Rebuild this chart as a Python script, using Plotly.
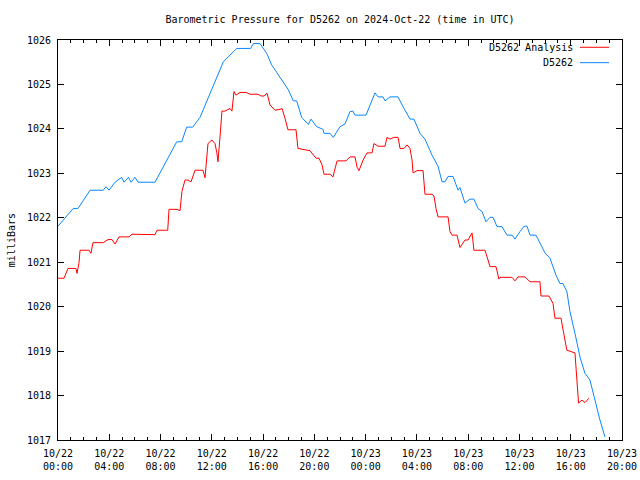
import pandas as pd
import plotly.graph_objects as go

# ---- data (hours since 2024-10-22 00:00 UTC, pressure in mb) ----
START = "2024-10-22 00:00"

obs_hours = [0, 0.39, 1.19, 1.56, 2.50, 3.53, 3.74, 3.98, 4.45, 4.97, 5.15, 5.50, 5.70, 6.01, 6.24,
             7.57, 9.26, 9.65, 10.04, 10.51, 10.92, 11.08, 12.90, 13.55, 13.94, 15.03, 15.24, 15.76,
             16.28, 16.67, 17.32, 17.97, 18.36, 18.62, 19.01, 19.50, 19.53, 19.74, 20.18, 20.67, 20.75,
             21.22, 21.48, 22.00, 22.39, 22.78, 23.01, 23.17, 24.03, 24.73, 24.97, 25.36, 25.51, 25.90,
             26.53, 26.84, 27.31, 27.46, 27.77, 28.24, 28.63, 29.18, 29.65, 29.96, 30.19, 30.43, 30.82,
             31.21, 31.36, 31.75, 32.14, 32.45, 32.77, 33.08, 33.39, 33.70, 33.94, 34.25, 34.64, 35.03,
             35.42, 35.65, 36.04, 36.36, 36.59, 36.82, 37.29, 37.60, 37.99, 38.38, 38.85, 39.16, 39.39,
             39.70, 39.94, 40.33, 40.72, 41.11, 41.50, 41.89, 42.28, 42.67]
obs_values = [1021.81, 1021.95, 1022.21, 1022.21, 1022.62, 1022.62, 1022.70, 1022.62, 1022.80, 1022.91,
              1022.80, 1022.91, 1022.80, 1022.91, 1022.80, 1022.80, 1023.71, 1023.71, 1024.04, 1024.04,
              1024.20, 1024.26, 1025.51, 1025.71, 1025.81, 1025.81, 1025.92, 1025.92, 1025.70, 1025.44,
              1025.17, 1024.88, 1024.63, 1024.63, 1024.26, 1024.12, 1024.10, 1024.22, 1024.05, 1023.99,
              1023.90, 1023.90, 1023.81, 1024.05, 1024.11, 1024.39, 1024.40, 1024.31, 1024.31, 1024.81,
              1024.72, 1024.72, 1024.63, 1024.72, 1024.72, 1024.54, 1024.31, 1024.22, 1024.22, 1023.90,
              1023.77, 1023.41, 1023.16, 1022.81, 1022.81, 1022.93, 1022.93, 1022.62, 1022.68, 1022.33,
              1022.42, 1022.42, 1022.21, 1022.14, 1021.91, 1022.01, 1022.01, 1021.80, 1021.80, 1021.61,
              1021.61, 1021.52, 1021.69, 1021.81, 1021.81, 1021.61, 1021.61, 1021.43, 1021.21, 1021.09,
              1020.71, 1020.52, 1020.52, 1020.34, 1019.89, 1019.40, 1018.87, 1018.50, 1018.35, 1017.90,
              1017.45, 1017.07]

ana_hours = [0, 0.47, 0.78, 1.40, 1.48, 1.64, 1.72, 2.42, 2.57, 2.73, 3.53, 3.90, 4.21, 4.45, 4.76,
             5.54, 5.77, 6.63, 7.57, 7.72, 8.56, 8.66, 9.28, 9.52, 9.67, 9.91, 10.14, 10.38, 10.69,
             11.16, 11.31, 11.47, 11.62, 11.70, 12.01, 12.25, 12.40, 12.48, 12.64, 12.79, 13.03, 13.42,
             13.57, 13.73, 13.89, 14.20, 14.67, 14.98, 15.60, 15.84, 16.07, 16.31, 16.54, 16.93, 17.32,
             17.48, 17.71, 17.94, 18.57, 18.72, 19.66, 19.82, 20.13, 20.36, 20.60, 20.75, 21.22, 21.45,
             21.77, 22.47, 22.78, 23.17, 23.33, 23.48, 23.80, 24.11, 24.50, 24.65, 24.97, 25.51, 25.67,
             25.90, 26.21, 26.53, 26.68, 26.99, 27.23, 27.46, 27.62, 27.70, 28.01, 28.48, 28.63, 29.18,
             29.33, 29.49, 29.65, 30.43, 30.58, 30.74, 31.13, 31.36, 31.52, 31.75, 31.99, 32.30, 32.45,
             33.31, 33.55, 33.70, 34.17, 34.40, 34.48, 35.42, 35.65, 35.89, 36.43, 36.82, 37.60, 37.68,
             38.31, 38.62, 38.77, 39.24, 39.55, 39.70, 40.33, 40.49, 40.61, 40.88, 41.11, 41.42]
ana_values = [1020.64, 1020.64, 1020.86, 1020.86, 1020.75, 1020.99, 1021.27, 1021.27, 1021.20, 1021.44,
              1021.44, 1021.51, 1021.51, 1021.41, 1021.57, 1021.57, 1021.63, 1021.63, 1021.62, 1021.72,
              1021.72, 1022.19, 1022.19, 1022.16, 1022.59, 1022.85, 1022.85, 1022.81, 1023.07, 1023.07,
              1023.07, 1022.90, 1023.37, 1023.67, 1023.75, 1023.67, 1023.45, 1023.26, 1023.82, 1024.40,
              1024.40, 1024.46, 1024.40, 1024.84, 1024.76, 1024.82, 1024.82, 1024.78, 1024.78, 1024.74,
              1024.74, 1024.80, 1024.54, 1024.42, 1024.44, 1024.46, 1024.24, 1023.98, 1023.98, 1023.56,
              1023.51, 1023.46, 1023.34, 1023.34, 1023.19, 1022.98, 1022.98, 1022.92, 1023.28, 1023.28,
              1023.37, 1023.37, 1023.14, 1023.06, 1023.30, 1023.46, 1023.46, 1023.67, 1023.61, 1023.61,
              1023.81, 1023.77, 1023.81, 1023.81, 1023.56, 1023.56, 1023.64, 1023.56, 1023.30, 1023.01,
              1023.06, 1023.06, 1022.53, 1022.53, 1022.49, 1022.21, 1022.02, 1022.02, 1021.69, 1021.61,
              1021.61, 1021.33, 1021.39, 1021.50, 1021.50, 1021.66, 1021.27, 1021.27, 1021.05, 1020.90,
              1020.90, 1020.62, 1020.66, 1020.66, 1020.58, 1020.67, 1020.67, 1020.56, 1020.56, 1020.24,
              1020.24, 1020.07, 1019.74, 1019.74, 1019.25, 1019.02, 1018.96, 1018.39, 1017.83, 1017.90,
              1017.84, 1017.94]

tick_hours = [0, 4, 8, 12, 16, 20, 24, 28, 32, 36, 40, 44]
tick_labels = ["10/22<br>00:00", "10/22<br>04:00", "10/22<br>08:00", "10/22<br>12:00",
               "10/22<br>16:00", "10/22<br>20:00", "10/23<br>00:00", "10/23<br>04:00",
               "10/23<br>08:00", "10/23<br>12:00", "10/23<br>16:00", "10/23<br>20:00"]
series_names = ["D5262 Analysis", "D5262"]
series_colors = ["#ff0000", "#0a86ff"]

t0 = pd.Timestamp(START)
to_time = lambda h: t0 + pd.to_timedelta(h, unit="h")

FONT = "DejaVu Sans Mono"

fig = go.Figure()
fig.add_trace(go.Scatter(x=to_time(ana_hours), y=ana_values, mode="lines",
                         line=dict(color=series_colors[0], width=1), name=series_names[0]))
fig.add_trace(go.Scatter(x=to_time(obs_hours), y=obs_values, mode="lines",
                         line=dict(color=series_colors[1], width=1), name=series_names[1]))

fig.update_layout(
    width=640, height=480,
    margin=dict(l=58, r=18, t=40, b=40, autoexpand=False),
    paper_bgcolor="white", plot_bgcolor="white",
    showlegend=False,
    font=dict(family=FONT, size=10, color="black"),
    title=dict(text="Barometric Pressure for D5262 on 2024-Oct-22 (time in UTC)",
               x=0.5, xref="paper", xanchor="center", y=1 - 19 / 480, yref="container",
               yanchor="middle", font=dict(family=FONT, size=10, color="black")),
)
fig.update_xaxes(
    type="date", range=[to_time(tick_hours[0]), to_time(tick_hours[-1])],
    tickvals=list(to_time(tick_hours)), ticktext=tick_labels,
    ticks="inside", ticklen=6, tickcolor="black", tickwidth=1,
    minor=dict(dtick=3600000, ticks="inside", ticklen=3, tickcolor="black", tickwidth=1),
    showline=True, linecolor="black", linewidth=1, mirror="allticks",
    showgrid=False, zeroline=False, automargin=False, ticklabelstandoff=4,
    tickfont=dict(family=FONT, size=10, color="black"),
)
fig.update_yaxes(
    range=[1017, 1026], dtick=1, tick0=1017,
    ticks="inside", ticklen=6, tickcolor="black", tickwidth=1,
    showline=True, linecolor="black", linewidth=1, mirror="allticks",
    showgrid=False, zeroline=False, automargin=False, ticklabelstandoff=4,
    tickfont=dict(family=FONT, size=10, color="black"),
)

# y-axis title
fig.add_annotation(text="milliBars", textangle=-90, xref="paper", yref="paper",
                   x=-0.083, y=0.5, showarrow=False, xanchor="center", yanchor="middle",
                   font=dict(family=FONT, size=10, color="black"))

# legend (text right-aligned, line sample to the right)
leg_y = [0.9818, 0.9433]
for name, color, yy in zip(series_names, series_colors, leg_y):
    fig.add_annotation(text=name, xref="paper", yref="paper", x=0.9165, y=yy,
                       xanchor="right", yanchor="middle", showarrow=False,
                       font=dict(family=FONT, size=10, color="black"))
    fig.add_shape(type="line", xref="paper", yref="paper", x0=0.9255, x1=0.977, y0=yy, y1=yy,
                  line=dict(color=color, width=1))

fig.write_html("out.html", config={"displayModeBar": False, "staticPlot": True},
               post_script="document.body.style.margin='0';document.body.style.overflow='hidden';")
